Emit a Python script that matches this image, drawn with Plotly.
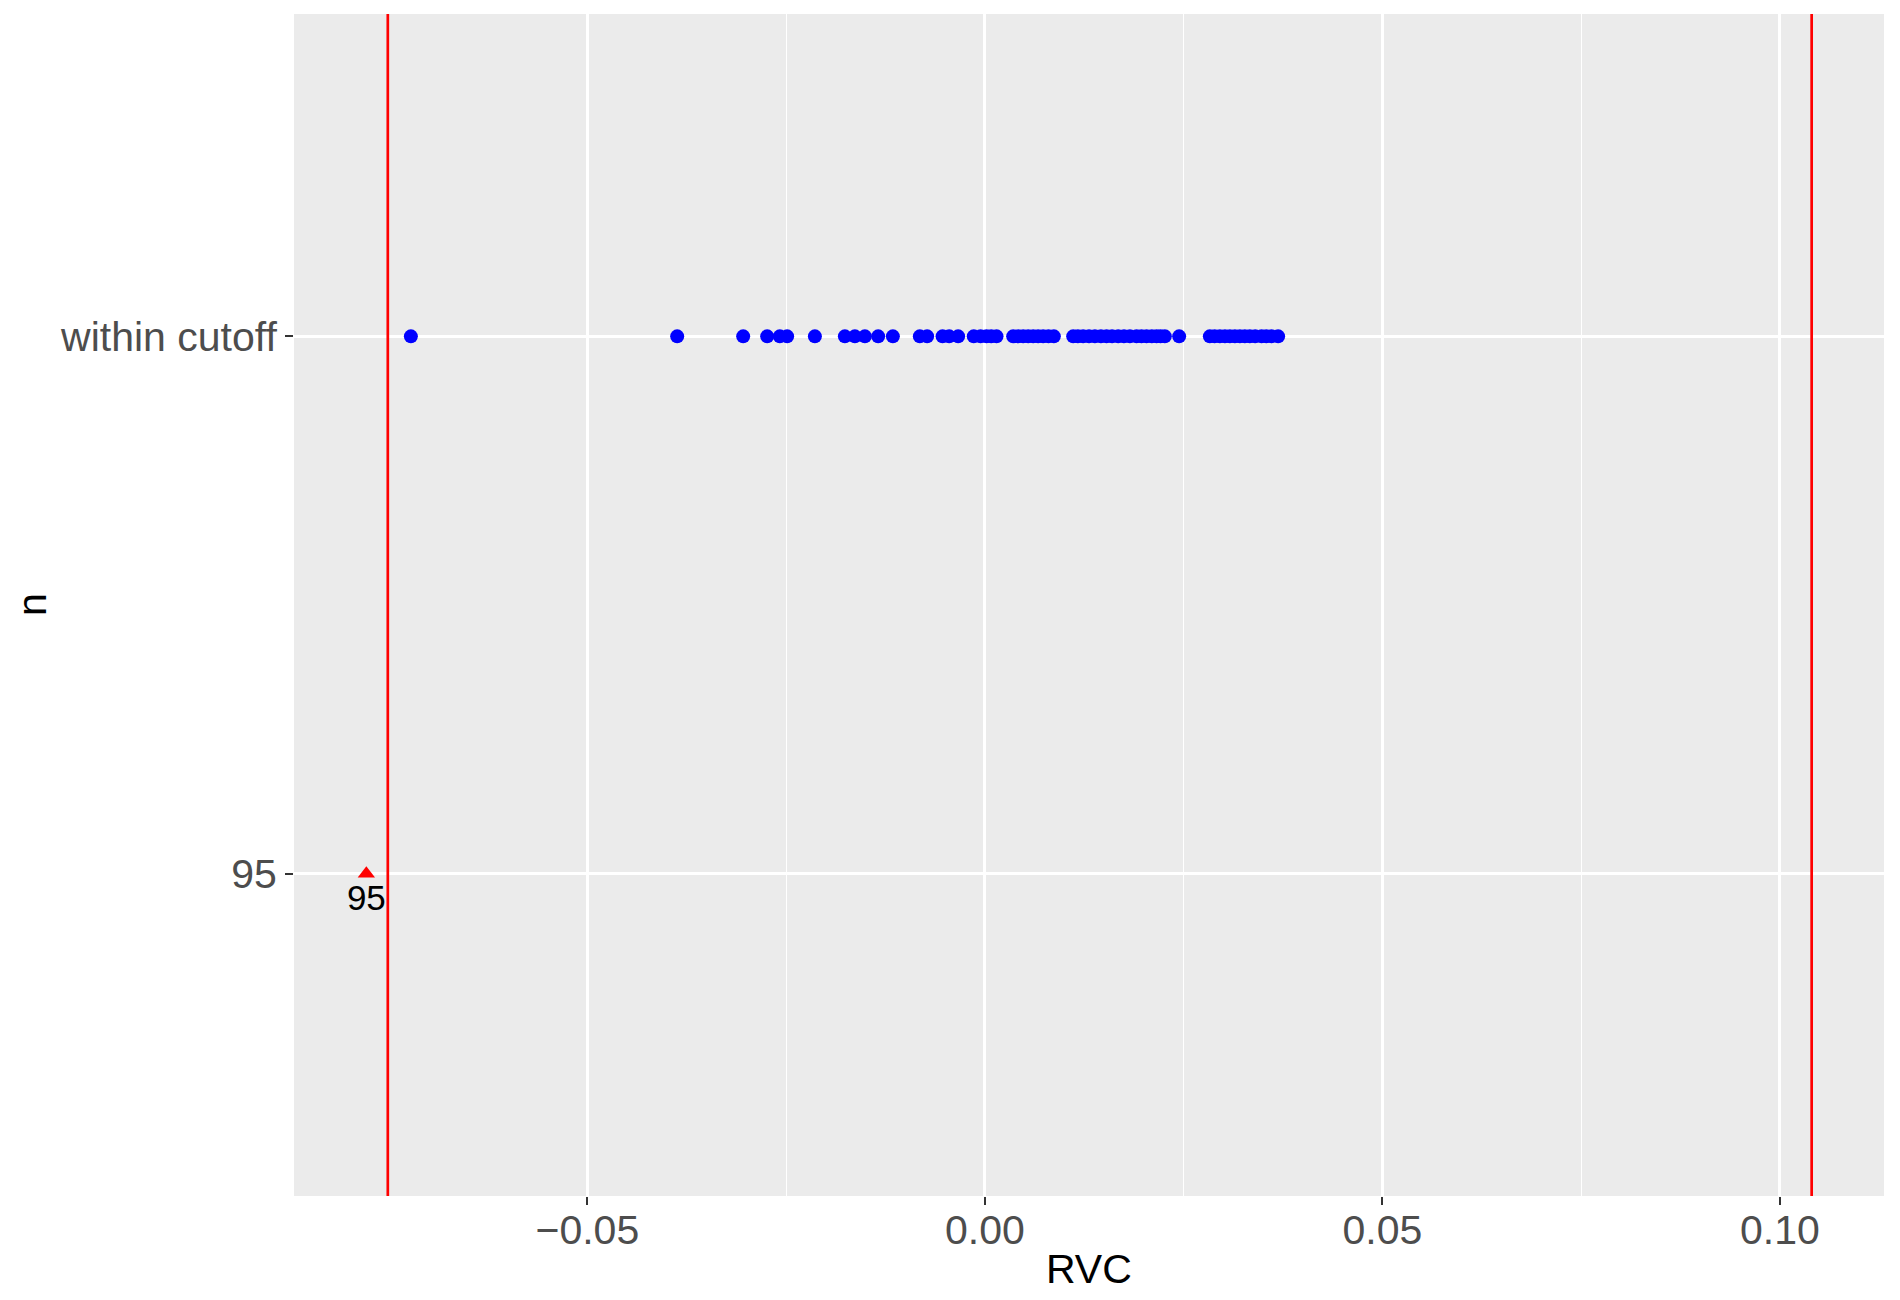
import plotly.graph_objects as go

# ---- data ----
categories = ["95", "within cutoff"]
within_cutoff_rvc = [
    -0.07220, -0.03870, -0.03040, -0.02738, -0.02579, -0.02487, -0.02138,
    -0.01761, -0.01635, -0.01509, -0.01342, -0.01157, -0.00818, -0.00726,
    -0.00532, -0.00449, -0.00336, -0.00140, -0.00054, 0.00021, 0.00080, 0.00147,
    0.00356, 0.00420, 0.00482, 0.00545, 0.00608, 0.00670, 0.00733, 0.00800, 0.00868,
    0.01111, 0.01170, 0.01236, 0.01310, 0.01384, 0.01460, 0.01531, 0.01600,
    0.01677, 0.01750, 0.01824, 0.01908, 0.01970, 0.02034, 0.02100, 0.02160,
    0.02210, 0.02264, 0.02444, 0.02830, 0.02890, 0.02956, 0.03020, 0.03082,
    0.03145, 0.03208, 0.03270, 0.03333, 0.03400, 0.03481, 0.03540, 0.03606,
    0.03689,
]
outlier_rvc = [-0.0778]
outlier_labels = ["95"]
cutoffs = [-0.0751, 0.1040]
x_range = [-0.0869, 0.1131]
x_ticks = [-0.05, 0.00, 0.05, 0.10]
x_tick_text = ["\u22120.05", "0.00", "0.05", "0.10"]
x_minor_ticks = [-0.075, -0.025, 0.025, 0.075]
x_title = "RVC"
y_title = "n"

FONT = "Liberation Sans, Arial, sans-serif"

fig = go.Figure()

fig.add_trace(go.Scatter(
    x=within_cutoff_rvc,
    y=[categories[1]] * len(within_cutoff_rvc),
    mode="markers",
    marker=dict(color="#0000FF", size=14, line=dict(width=0)),
    showlegend=False,
    hoverinfo="x",
))

fig.add_trace(go.Scatter(
    x=outlier_rvc,
    y=[categories[0]] * len(outlier_rvc),
    mode="markers+text",
    text=outlier_labels,
    textposition="bottom center",
    textfont=dict(family=FONT, size=35, color="#000000"),
    marker=dict(color="#FF0000", symbol="triangle-up", size=15, line=dict(width=0)),
    showlegend=False,
    hoverinfo="x",
))

for c in cutoffs:
    fig.add_vline(x=c, line=dict(color="#FF0000", width=2.7), layer="above")

# axis titles as annotations for exact placement
fig.add_annotation(text=x_title, xref="paper", yref="paper", x=0.5, y=0,
                   xanchor="center", yanchor="middle", yshift=-73, showarrow=False,
                   font=dict(family=FONT, size=41, color="#000000"))
fig.add_annotation(text=y_title, xref="paper", yref="paper", x=0, y=0.5,
                   xanchor="center", yanchor="middle", xshift=-262, textangle=-90,
                   showarrow=False,
                   font=dict(family=FONT, size=41, color="#000000"))

fig.update_layout(
    width=1900,
    height=1300,
    margin=dict(l=286, r=24, t=6, b=112, autoexpand=False),
    paper_bgcolor="#FFFFFF",
    plot_bgcolor="#EBEBEB",
    font=dict(family=FONT, color="#4D4D4D"),
    showlegend=False,
)

fig.update_xaxes(
    range=x_range,
    tickvals=x_ticks,
    ticktext=x_tick_text,
    showgrid=True,
    gridcolor="#FFFFFF",
    gridwidth=2.6,
    zeroline=False,
    showline=False,
    ticks="outside",
    ticklen=8,
    tickwidth=2,
    tickcolor="#333333",
    tickfont=dict(size=41, color="#4D4D4D"),
    ticklabelstandoff=-10,
    minor=dict(tickvals=x_minor_ticks, showgrid=True,
               gridcolor="#FFFFFF", gridwidth=1.3, ticks=""),
    automargin=False,
)

fig.update_yaxes(
    type="category",
    categoryorder="array",
    categoryarray=categories,
    range=[-0.6, 1.6],
    showgrid=True,
    gridcolor="#FFFFFF",
    gridwidth=2.6,
    zeroline=False,
    showline=False,
    ticks="outside",
    ticklen=8,
    tickwidth=2,
    tickcolor="#333333",
    tickfont=dict(size=41, color="#4D4D4D"),
    automargin=False,
)

fig.write_html("out.html")
